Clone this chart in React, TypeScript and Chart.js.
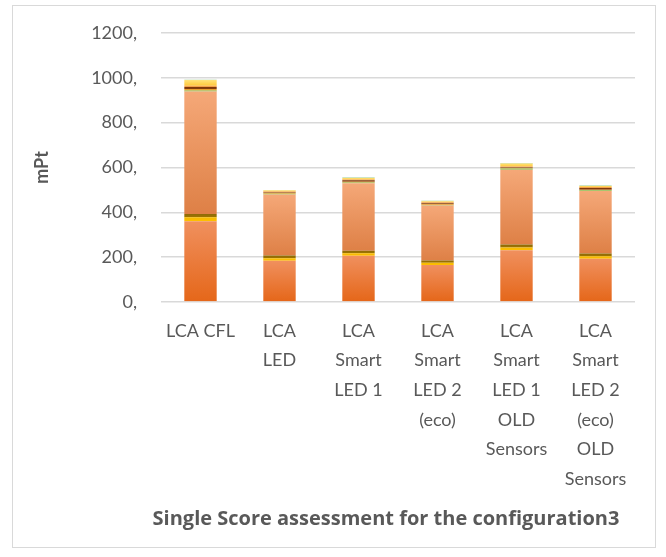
import React, { useEffect, useRef } from "react";
import { Chart, registerables } from "chart.js";

Chart.register(...registerables);

const categories: string[][] = [
  ["LCA CFL"],
  ["LCA", "LED"],
  ["LCA", "Smart", "LED 1"],
  ["LCA", "Smart", "LED 2", "(eco)"],
  ["LCA", "Smart", "LED 1", "OLD", "Sensors"],
  ["LCA", "Smart", "LED 2", "(eco)", "OLD", "Sensors"],
];

const baseLayer = [5, 4, 4, 4, 4, 4];
const lowerMain = [355, 180, 202, 161, 227, 189];
const yellowBand = [18, 11, 11, 10, 12, 11];
const goldBand = [15, 12, 12, 10, 14, 12];
const upperMain = [546, 273, 301, 245, 333, 279];
const greenBand = [5, 3, 3, 3, 6, 3];
const ochreBand = [6, 3, 3, 3, 2, 3];
const brownBand = [9, 3, 7, 5, 2, 8];
const orangeBand = [6, 4, 4, 4, 4, 4];
const yellowTop = [25, 5, 6, 5, 14, 5];
const tealTop = [2, 2, 2, 2, 2, 2];

const yTicks = [0, 200, 400, 600, 800, 1000, 1200];
const xTitle = "Single Score assessment for the configuration3";
const yTitle = "mPt";

const layers: { data: number[]; c0: string; c1: string }[] = [
  { data: baseLayer, c0: "#F4B08A", c1: "#F4B08A" },
  { data: lowerMain, c0: "#E5671A", c1: "#F0905E" },
  { data: yellowBand, c0: "#FFC000", c1: "#F5B800" },
  { data: goldBand, c0: "#A07600", c1: "#8E6A08" },
  { data: upperMain, c0: "#DE8046", c1: "#F5A878" },
  { data: greenBand, c0: "#8DBA4F", c1: "#8DBA4F" },
  { data: ochreBand, c0: "#E9A030", c1: "#E9A030" },
  { data: brownBand, c0: "#8A3E0E", c1: "#7A3508" },
  { data: orangeBand, c0: "#F2A04A", c1: "#F2A04A" },
  { data: yellowTop, c0: "#FFC83A", c1: "#FFE27A" },
  { data: tealTop, c0: "#9CCB8A", c1: "#9CCB8A" },
];

const bottomTitle = {
  id: "bottomTitle",
  afterDraw(chart: any) {
    const { ctx, chartArea } = chart;
    ctx.save();
    ctx.font = "bold 20px 'Open Sans', Lato, sans-serif";
    ctx.fillStyle = "#595959";
    ctx.textAlign = "center";
    ctx.textBaseline = "middle";
    ctx.fillText(xTitle, (chartArea.left + chartArea.right) / 2 - 12, chart.height - 28);
    ctx.restore();
  },
};

export default function App() {
  const ref = useRef<HTMLCanvasElement | null>(null);

  useEffect(() => {
    if (!ref.current) return;
    const font = "Lato, 'Liberation Sans', sans-serif";
    const datasets = layers.map((layer, li) => ({
      label: "L" + li,
      data: layer.data,
      backgroundColor: (ctx: any) => {
        if (ctx.type !== "data") return layer.c0;
        const chart = ctx.chart;
        const ys = chart.scales && chart.scales.y;
        if (!ys || !chart.chartArea) return layer.c0;
        const i = ctx.dataIndex;
        let start = 0;
        for (let k = 0; k < li; k++) start += layers[k].data[i];
        const end = start + layer.data[i];
        const p0 = ys.getPixelForValue(start);
        const p1 = ys.getPixelForValue(end);
        if (!isFinite(p0) || !isFinite(p1) || p0 === p1) return layer.c0;
        const g = chart.ctx.createLinearGradient(0, p0, 0, p1);
        g.addColorStop(0, layer.c0);
        g.addColorStop(1, layer.c1);
        return g;
      },
      borderWidth: 0,
      barPercentage: 0.41,
      categoryPercentage: 1,
    }));

    const chart = new Chart(ref.current, {
      type: "bar",
      data: { labels: categories as any, datasets },
      plugins: [bottomTitle],
      options: {
        animation: false,
        responsive: false,
        maintainAspectRatio: false,
        layout: { padding: { left: 0, right: 20, top: 27, bottom: 8 } },
        plugins: { legend: { display: false }, tooltip: { enabled: false } },
        scales: {
          x: {
            stacked: true,
            grid: { display: false },
            border: { display: false },
            ticks: {
              color: "#595959",
              font: { family: font, size: 18, lineHeight: 1.65 },
              padding: 6,
              maxRotation: 0,
              autoSkip: false,
            },
            afterFit: (s: any) => {
              s.height = 237;
            },
          },
          y: {
            stacked: true,
            min: 0,
            max: 1200,
            afterBuildTicks: (s: any) => {
              s.ticks = yTicks.map((v) => ({ value: v }));
            },
            grid: { color: "#D9D9D9", lineWidth: 1.5, drawTicks: false },
            border: { display: false },
            ticks: {
              color: "#595959",
              font: { family: font, size: 18 },
              padding: 24,
              callback: (v: any) => v + ",",
            },
            title: {
              display: true,
              text: yTitle,
              color: "#595959",
              font: { family: font, size: 18, weight: "bold" },
              padding: { top: 18, bottom: 0 },
            },
            afterFit: (s: any) => {
              s.width = 148;
              s.paddingTop = 0;
              s.paddingBottom = 0;
            },
          },
        },
      },
    });
    return () => chart.destroy();
  }, []);

  return (
    <div
      style={{
        position: "absolute",
        left: 12,
        top: 5,
        width: 644,
        height: 543,
        border: "1px solid #D9D9D9",
        boxSizing: "border-box",
        background: "#fff",
      }}
    >
      <canvas ref={ref} width={642} height={541} style={{ display: "block" }} />
    </div>
  );
}
